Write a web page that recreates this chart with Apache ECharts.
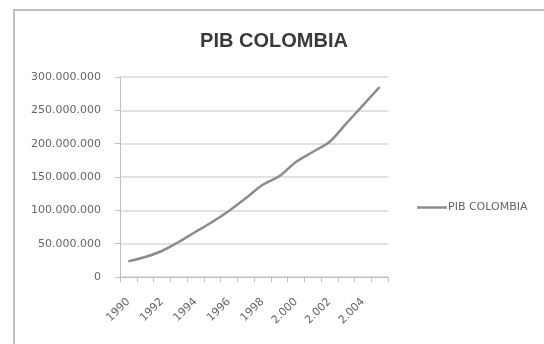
<!DOCTYPE html>
<html>
<head>
<meta charset="utf-8">
<script src="https://cdn.jsdelivr.net/npm/echarts@6/dist/echarts.min.js"></script>
<style>
  html, body { margin: 0; padding: 0; background: #fff; }
  #chart { width: 544px; height: 344px; }
</style>
</head>
<body>
<div id="chart"></div>
<script>
// Colombian GDP by year
const years = ['1990', '1991', '1992', '1993', '1994', '1995', '1996', '1997',
  '1998', '1999', '2.000', '2.001', '2.002', '2.003', '2.004', '2.005'];
const pibColombia = [23400000, 30000000, 39000000, 52500000, 67500000, 82500000,
  99000000, 118000000, 138000000, 151000000, 172500000, 187500000,
  202500000, 230000000, 257500000, 285000000];
const yTicks = [0, 50000000, 100000000, 150000000, 200000000, 250000000, 300000000];

const seriesName = 'PIB COLOMBIA';
const titleFont = 'Liberation Sans, Arial, sans-serif';
const labelFont = 'DejaVu Sans, sans-serif';

// thousands separated with dots, e.g. 300.000.000
function dotted(v) {
  return String(Math.round(v)).replace(/\B(?=(\d{3})+(?!\d))/g, '.');
}

const chart = echarts.init(document.getElementById('chart'), null, { renderer: 'canvas' });
chart.setOption({
  animation: false,
  backgroundColor: '#ffffff',
  title: {
    text: 'PIB COLOMBIA',
    left: 269,
    textAlign: 'center',
    top: 26,
    textStyle: { fontFamily: titleFont, fontSize: 20, fontWeight: 'bold', color: '#3a3a3a' }
  },
  legend: {
    data: [seriesName],
    icon: 'rect',
    left: 412,
    top: 197,
    itemWidth: 30,
    itemHeight: 2.5,
    itemGap: 0,
    itemStyle: { color: '#8c8c8c' },
    textStyle: { fontFamily: labelFont, fontSize: 11, color: '#666666', padding: [0, 0, 0, -4] }
  },
  grid: { left: 120, right: 156, top: 77, bottom: 67 },
  xAxis: {
    type: 'category',
    data: years,
    boundaryGap: true,
    axisLine: { lineStyle: { color: '#bfbfbf', width: 1 } },
    axisTick: { show: true, interval: 0, length: 5, lineStyle: { color: '#bfbfbf' } },
    axisLabel: {
      interval: 1,
      rotate: 45,
      margin: 23,
      fontFamily: labelFont,
      fontSize: 11,
      color: '#666666'
    },
    splitLine: { show: false }
  },
  yAxis: {
    type: 'value',
    min: yTicks[0],
    max: yTicks[yTicks.length - 1],
    interval: yTicks[1] - yTicks[0],
    axisLine: { show: true, lineStyle: { color: '#bfbfbf', width: 1 } },
    axisTick: { show: true, length: 5, lineStyle: { color: '#bfbfbf' } },
    axisLabel: {
      margin: 19,
      fontFamily: labelFont,
      fontSize: 11,
      color: '#666666',
      formatter: dotted
    },
    splitLine: { show: true, lineStyle: { color: '#d9d9d9', width: 1.5 } }
  },
  series: [{
    name: seriesName,
    type: 'line',
    data: pibColombia,
    smooth: 0.3,
    symbol: 'none',
    lineStyle: { color: '#8c8c8c', width: 2.5 },
    itemStyle: { color: '#8c8c8c' }
  }],
  graphic: [{
    type: 'rect',
    silent: true,
    shape: { x: 14, y: 10, width: 700, height: 500 },
    style: { fill: null, stroke: '#c0c0c0', lineWidth: 2 }
  }]
});
</script>
</body>
</html>
